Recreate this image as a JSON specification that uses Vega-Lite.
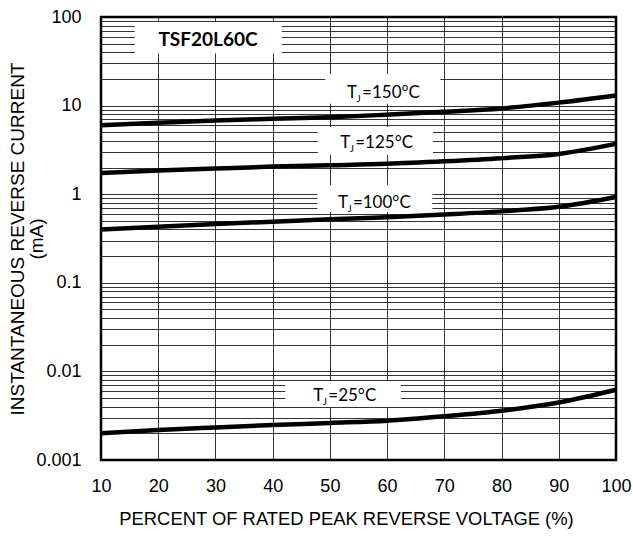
{
  "$schema": "https://vega.github.io/schema/vega-lite/v6.json",
  "width": 515,
  "height": 443,
  "autosize": {"type": "none"},
  "padding": {"left": 101, "top": 17, "right": 17, "bottom": 76},
  "datasets": {
    "curves": [
      {"t": "150", "x": 10, "y": 6.0}, {"t": "150", "x": 20, "y": 6.4}, {"t": "150", "x": 30, "y": 6.8},
      {"t": "150", "x": 40, "y": 7.1}, {"t": "150", "x": 50, "y": 7.4}, {"t": "150", "x": 60, "y": 7.9},
      {"t": "150", "x": 70, "y": 8.5}, {"t": "150", "x": 80, "y": 9.3}, {"t": "150", "x": 90, "y": 10.8},
      {"t": "150", "x": 100, "y": 13.0},
      {"t": "125", "x": 10, "y": 1.73}, {"t": "125", "x": 20, "y": 1.85}, {"t": "125", "x": 30, "y": 1.95},
      {"t": "125", "x": 40, "y": 2.05}, {"t": "125", "x": 50, "y": 2.12}, {"t": "125", "x": 60, "y": 2.2},
      {"t": "125", "x": 70, "y": 2.35}, {"t": "125", "x": 80, "y": 2.55}, {"t": "125", "x": 90, "y": 2.85},
      {"t": "125", "x": 100, "y": 3.7},
      {"t": "100", "x": 10, "y": 0.40}, {"t": "100", "x": 20, "y": 0.43}, {"t": "100", "x": 30, "y": 0.46},
      {"t": "100", "x": 40, "y": 0.49}, {"t": "100", "x": 50, "y": 0.52}, {"t": "100", "x": 60, "y": 0.55},
      {"t": "100", "x": 70, "y": 0.59}, {"t": "100", "x": 80, "y": 0.64}, {"t": "100", "x": 90, "y": 0.72},
      {"t": "100", "x": 100, "y": 0.93},
      {"t": "25", "x": 10, "y": 0.0020}, {"t": "25", "x": 20, "y": 0.00218}, {"t": "25", "x": 30, "y": 0.00233},
      {"t": "25", "x": 40, "y": 0.00248}, {"t": "25", "x": 50, "y": 0.00262}, {"t": "25", "x": 60, "y": 0.00278},
      {"t": "25", "x": 70, "y": 0.00312}, {"t": "25", "x": 80, "y": 0.0036}, {"t": "25", "x": 90, "y": 0.00445},
      {"t": "25", "x": 100, "y": 0.0062}
    ],
    "boxes": [
      {"x": 15.9, "x2": 41.6, "y": 39, "y2": 88},
      {"x": 49.2, "x2": 69.3, "y": 10.5, "y2": 22.7},
      {"x": 47.9, "x2": 68.0, "y": 2.77, "y2": 5.73},
      {"x": 47.8, "x2": 67.9, "y": 0.63, "y2": 1.27},
      {"x": 42.2, "x2": 62.4, "y": 0.00396, "y2": 0.0078}
    ],
    "labels": [
      {"x": 53.0, "y": 13.9, "num": "=150°C"},
      {"x": 51.8, "y": 3.81, "num": "=125°C"},
      {"x": 51.4, "y": 0.80, "num": "=100°C"},
      {"x": 47.1, "y": 0.00527, "num": "=25°C"}
    ],
    "part": [
      {"x": 28.7, "y": 54.3, "txt": "TSF20L60C"}
    ]
  },
  "encoding": {
    "x": {
      "field": "x",
      "type": "quantitative",
      "scale": {"domain": [10, 100], "nice": false, "zero": false},
      "axis": {
        "title": "PERCENT OF RATED PEAK REVERSE VOLTAGE (%)",
        "values": [10, 20, 30, 40, 50, 60, 70, 80, 90, 100],
        "labelFlush": false,
        "labelPadding": 17,
        "titlePadding": 14,
        "titleFontSize": 18.4,
        "titleX": 245,
        "titleAlign": "center"
      }
    },
    "y": {
      "field": "y",
      "type": "quantitative",
      "scale": {"type": "log", "domain": [0.001, 100], "nice": false},
      "axis": {
        "title": ["INSTANTANEOUS REVERSE CURRENT", "(mA)"],
        "values": [0.001, 0.002, 0.003, 0.004, 0.005, 0.006, 0.007, 0.008, 0.009,
                   0.01, 0.02, 0.03, 0.04, 0.05, 0.06, 0.07, 0.08, 0.09,
                   0.1, 0.2, 0.3, 0.4, 0.5, 0.6, 0.7, 0.8, 0.9,
                   1, 2, 3, 4, 5, 6, 7, 8, 9,
                   10, 20, 30, 40, 50, 60, 70, 80, 90, 100],
        "format": "~g",
        "labelExpr": "indexof([0.001, 0.01, 0.1, 1, 10, 100], datum.value) >= 0 ? datum.label : ''",
        "labelOverlap": false,
        "labelFlush": false,
        "labelPadding": 20,
        "titleAngle": -90,
        "titleAlign": "center",
        "titleBaseline": "alphabetic",
        "titleX": -78,
        "titleY": 221.5,
        "titleLineHeight": 19,
        "titleFontSize": 19
      }
    }
  },
  "layer": [
    {
      "data": {"name": "boxes"},
      "mark": {"type": "rect", "fill": "white", "stroke": null},
      "encoding": {
        "x2": {"field": "x2"},
        "y2": {"field": "y2"}
      }
    },
    {
      "data": {"name": "curves"},
      "mark": {"type": "line", "interpolate": "monotone", "strokeWidth": 4.5, "color": "black", "strokeCap": "butt"},
      "encoding": {
        "detail": {"field": "t", "type": "nominal"}
      }
    },
    {
      "data": {"name": "labels"},
      "mark": {"type": "text", "text": "T", "align": "left", "baseline": "middle", "font": "Lato", "fontSize": 17, "color": "black"}
    },
    {
      "data": {"name": "labels"},
      "mark": {"type": "text", "text": "J", "align": "left", "baseline": "middle", "font": "Lato", "fontSize": 10, "dx": 9.5, "dy": 6, "color": "black"}
    },
    {
      "data": {"name": "labels"},
      "mark": {"type": "text", "align": "left", "baseline": "middle", "font": "Lato", "fontSize": 17, "dx": 15, "color": "black"},
      "encoding": {
        "text": {"field": "num", "type": "nominal"}
      }
    },
    {
      "data": {"name": "part"},
      "mark": {"type": "text", "align": "center", "baseline": "middle", "font": "Lato", "fontSize": 19, "fontWeight": "bold", "color": "black"},
      "encoding": {
        "text": {"field": "txt", "type": "nominal"}
      }
    }
  ],
  "config": {
    "font": "Liberation Sans",
    "view": {"stroke": "black", "strokeWidth": 2.5},
    "axis": {
      "domain": false,
      "ticks": false,
      "tickSize": 0,
      "grid": true,
      "gridColor": "#000000",
      "gridOpacity": 1,
      "gridWidth": 0.8,
      "labelFont": "Liberation Sans",
      "labelFontSize": 18,
      "labelColor": "black",
      "titleFont": "Liberation Sans",
      "titleFontWeight": "normal",
      "titleColor": "black"
    }
  }
}
